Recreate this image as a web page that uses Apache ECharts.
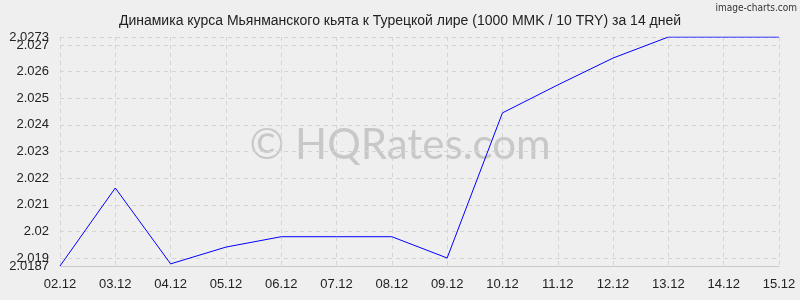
<!DOCTYPE html>
<html><head><meta charset="utf-8">
<script src="https://cdn.jsdelivr.net/npm/echarts@6/dist/echarts.min.js"></script>
<style>html,body{margin:0;padding:0;background:#efefef}#c{width:800px;height:300px}</style>
</head><body><div id="c"></div>
<script>
const categories = ['02.12','03.12','04.12','05.12','06.12','07.12','08.12','09.12','10.12','11.12','12.12','13.12','14.12','15.12'];
const rates = [2.0187,2.02163,2.01878,2.01941,2.0198,2.0198,2.0198,2.0190,2.02445,2.0255,2.02651,2.0273,2.0273,2.0273];
const yTicks = [2.019,2.02,2.021,2.022,2.023,2.024,2.025,2.026,2.027];
const yEnds = [2.0187,2.0273];
const yMin = 2.0187, yMax = 2.0273;
const titleText = 'Динамика курса Мьянманского кьята к Турецкой лире (1000 MMK / 10 TRY) за 14 дней';

const lblStyle = {fontFamily:'Liberation Sans',fontSize:13,color:'#222',margin:11,
  showMinLabel:true,showMaxLabel:true,formatter:v=>String(parseFloat(v.toFixed(4)))};
const chart = echarts.init(document.getElementById('c'), null, {renderer:'canvas'});
chart.setOption({
  backgroundColor:'#efefef',
  animation:false,
  title:{text:titleText,left:'center',top:9,textStyle:{fontFamily:'Liberation Sans',fontSize:14,fontWeight:'normal',color:'#222'}},
  graphic:[
    {type:'text',right:3,top:3,style:{text:'image-charts.com',fontFamily:'DejaVu Sans Condensed',fontSize:10,fill:'#333'}},
    {type:'text',left:'center',top:124,style:{text:'© HQRates.com',fontFamily:'Lato',fontSize:42,fill:'#c8c8c8'},z:0}
  ],
  grid:{left:60,right:21,top:37,bottom:34},
  xAxis:{type:'category',data:categories,boundaryGap:false,
    axisLine:{show:true,lineStyle:{color:'#c8c8c8'}},axisTick:{show:false},
    axisLabel:{fontFamily:'Liberation Sans',fontSize:13,color:'#222',margin:12},
    splitLine:{show:true,lineStyle:{color:'#d4d4d4',type:[4,4]}}},
  yAxis:[
    {type:'value',min:yMin,max:yMax,position:'left',
      axisLine:{show:false},axisTick:{show:false,customValues:yEnds},
      axisLabel:Object.assign({customValues:yEnds},lblStyle),
      splitLine:{show:true,lineStyle:{color:'#d4d4d4',type:[4,4]}}},
    {type:'value',min:yMin,max:yMax,position:'left',offset:0,
      axisLine:{show:false},axisTick:{show:false,customValues:yTicks},
      axisLabel:Object.assign({customValues:yTicks},lblStyle),
      splitLine:{show:true,lineStyle:{color:'#d4d4d4',type:[4,4]}}}
  ],
  series:[{type:'line',yAxisIndex:0,data:rates,symbol:'none',lineStyle:{color:'#0000ff',width:1},z:5}]
});
</script></body></html>
